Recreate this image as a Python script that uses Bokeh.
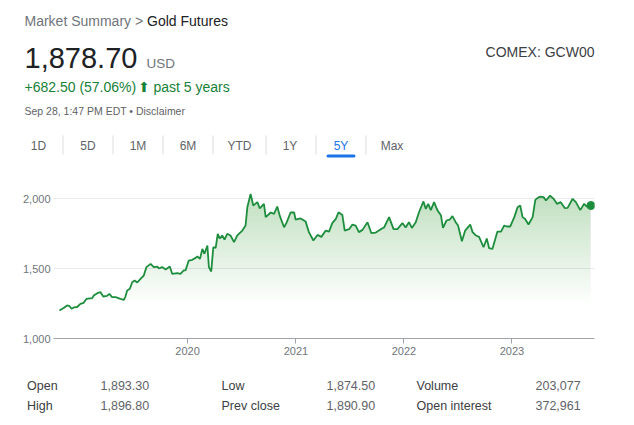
import numpy as np
import pandas as pd
from datetime import datetime
from bokeh.plotting import figure
from bokeh.layouts import column
from bokeh.models import Range1d, FixedTicker, NumeralTickFormatter, DatetimeTickFormatter
from bokeh.core.properties import value
from bokeh.embed import file_html
from bokeh.resources import INLINE

# ---------------- data ----------------
dates = [
    "2018-10-25", "2018-11-08", "2018-11-20", "2018-11-28", "2018-12-05", "2018-12-13", "2018-12-24", "2019-01-04", "2019-01-15", "2019-01-24",
    "2019-02-13", "2019-02-18", "2019-03-02", "2019-03-13", "2019-03-22", "2019-04-04", "2019-04-12", "2019-04-21", "2019-05-03", "2019-05-19",
    "2019-05-31", "2019-06-05", "2019-06-11", "2019-06-20", "2019-06-28", "2019-07-06", "2019-07-15", "2019-07-26", "2019-08-06", "2019-08-15",
    "2019-08-29", "2019-09-09", "2019-09-21", "2019-09-26", "2019-10-07", "2019-10-19", "2019-11-02", "2019-11-10", "2019-11-27", "2019-12-08",
    "2019-12-19", "2019-12-25", "2020-01-05", "2020-01-17", "2020-01-28", "2020-02-03", "2020-02-12", "2020-02-20", "2020-02-27", "2020-03-08",
    "2020-03-13", "2020-03-21", "2020-03-28", "2020-04-05", "2020-04-12", "2020-04-19", "2020-04-27", "2020-05-05", "2020-05-14", "2020-05-25",
    "2020-06-06", "2020-06-17", "2020-07-04", "2020-07-15", "2020-07-21", "2020-08-01", "2020-08-10", "2020-08-24", "2020-09-01", "2020-09-15",
    "2020-09-21", "2020-10-08", "2020-10-19", "2020-10-30", "2020-11-08", "2020-11-22", "2020-12-01", "2020-12-14", "2020-12-26", "2020-12-31",
    "2021-01-17", "2021-02-03", "2021-02-14", "2021-03-01", "2021-03-15", "2021-03-28", "2021-04-12", "2021-04-23", "2021-05-04", "2021-05-16",
    "2021-05-25", "2021-06-07", "2021-06-15", "2021-06-30", "2021-07-11", "2021-07-22", "2021-08-02", "2021-08-14", "2021-08-31", "2021-09-13",
    "2021-09-28", "2021-10-15", "2021-10-26", "2021-11-12", "2021-11-27", "2021-12-10", "2021-12-27", "2022-01-07", "2022-01-18", "2022-01-28",
    "2022-02-10", "2022-02-21", "2022-03-08", "2022-03-16", "2022-03-24", "2022-04-02", "2022-04-13", "2022-04-24", "2022-05-06", "2022-05-13",
    "2022-05-25", "2022-06-05", "2022-06-14", "2022-06-25", "2022-07-03", "2022-07-16", "2022-07-27", "2022-08-13", "2022-08-21", "2022-09-01",
    "2022-09-12", "2022-09-27", "2022-10-08", "2022-10-16", "2022-10-27", "2022-11-13", "2022-11-25", "2022-12-06", "2022-12-15", "2022-12-26",
    "2023-01-09", "2023-01-20", "2023-01-29", "2023-02-06", "2023-02-14", "2023-02-26", "2023-03-12", "2023-03-21", "2023-03-29", "2023-04-07",
    "2023-04-18", "2023-04-26", "2023-05-10", "2023-05-22", "2023-06-02", "2023-06-15", "2023-06-29", "2023-07-08", "2023-07-25", "2023-08-05",
    "2023-08-20", "2023-09-02", "2023-09-11", "2023-09-25",
]
prices = [
    1200, 1218, 1236, 1232, 1212, 1222, 1225, 1248, 1255, 1283,
    1288, 1307, 1324, 1331, 1300, 1305, 1319, 1295, 1295, 1283,
    1276, 1300, 1343, 1355, 1402, 1414, 1400, 1426, 1450, 1510,
    1533, 1510, 1514, 1500, 1510, 1493, 1514, 1462, 1467, 1462,
    1486, 1486, 1557, 1562, 1576, 1586, 1569, 1640, 1605, 1664,
    1510, 1479, 1652, 1648, 1748, 1714, 1736, 1707, 1748, 1736,
    1688, 1736, 1771, 1807, 1938, 2033, 1950, 1974, 1929, 1962,
    1867, 1900, 1890, 1943, 1874, 1795, 1830, 1900, 1900, 1850,
    1858, 1835, 1760, 1700, 1740, 1726, 1771, 1764, 1824, 1855,
    1902, 1883, 1771, 1781, 1814, 1807, 1760, 1776, 1831, 1752,
    1757, 1781, 1793, 1867, 1781, 1781, 1824, 1793, 1831, 1790,
    1831, 1902, 1979, 1926, 1962, 1917, 1974, 1917, 1881, 1790,
    1843, 1850, 1874, 1831, 1807, 1695, 1771, 1814, 1760, 1736,
    1726, 1652, 1714, 1645, 1640, 1764, 1764, 1807, 1800, 1800,
    1867, 1938, 1950, 1867, 1855, 1814, 1867, 1990, 2005, 2014,
    2010, 1986, 2021, 1998, 1962, 1974, 1931, 1933, 1998, 1974,
    1917, 1962, 1943, 1950,
]
y_ticks = [1000, 1500, 2000]
x_tick_years = [2020, 2021, 2022, 2023]
tabs = ["1D", "5D", "1M", "6M", "YTD", "1Y", "5Y", "Max"]
active_tab = "5Y"
stats_left = [("Open", "1,893.30"), ("High", "1,896.80")]
stats_mid = [("Low", "1,874.50"), ("Prev close", "1,890.90")]
stats_right = [("Volume", "203,077"), ("Open interest", "372,961")]

# ---------------- styles ----------------
FONT = "Liberation Sans"
GREEN = "#1e8e3e"
TEXT_GREEN = "#188038"
GRAY = "#70757a"
DARK = "#202124"
W = 634


def blank(h):
    f = figure(width=W, height=h, x_range=Range1d(0, W), y_range=Range1d(h, 0),
               output_backend="svg", toolbar_location=None,
               x_axis_location=None, y_axis_location=None, min_border=0,
               outline_line_color=None, background_fill_color="white",
               border_fill_color="white", frame_align=False)
    f.grid.visible = False
    return f


def txt(f, x, y, s, size, color, align="left", style="normal", font=FONT):
    f.text(x=[x], y=[y], text=[s], text_font=value(font), text_font_size=f"{size}px",
           text_color=color, text_align=align, text_baseline="middle",
           text_font_style=style)


# ---------------- header ----------------
hdr = blank(170)
txt(hdr, 24, 20, "Market Summary >", 14, GRAY)
txt(hdr, 146.5, 20, "Gold Futures", 14, DARK)
txt(hdr, 24, 57, "1,878.70", 29, DARK)
txt(hdr, 146, 62.5, "USD", 13.5, GRAY)
txt(hdr, 24, 86.5, "+682.50 (57.06%)", 14, TEXT_GREEN)
txt(hdr, 143.5, 86, "⬆", 14, TEXT_GREEN, align="center", font="DejaVu Sans")
txt(hdr, 153, 86.5, "past 5 years", 14, TEXT_GREEN)
txt(hdr, 24, 110.5, "Sep 28, 1:47 PM EDT • Disclaimer", 10.5, "#5f6368")
txt(hdr, 594, 51.5, "COMEX: GCW00", 14, "#3c4043", align="right")

tab_x = [38, 87.5, 137.5, 187.5, 239, 289.5, 340.5, 391.5]
sep_x = [62.5, 112.5, 162.5, 212.5, 265.5, 315.5, 365.5]
for tx, name in zip(tab_x, tabs):
    txt(hdr, tx, 145, name, 12, "#1a73e8" if name == active_tab else "#5f6368", align="center")
hdr.segment(x0=sep_x, y0=[135] * len(sep_x), x1=sep_x, y1=[154] * len(sep_x),
            line_color="#dadce0", line_width=1)
ai = tabs.index(active_tab)
hdr.segment(x0=[tab_x[ai] - 13], y0=[155.5], x1=[tab_x[ai] + 13], y1=[155.5],
            line_color="#1a73e8", line_width=3, line_cap="round")

# ---------------- chart ----------------
x = pd.to_datetime(dates)
v = np.array(prices, dtype=float)

chart = figure(width=W, height=202, x_axis_type="datetime",
               x_range=Range1d(datetime(2018, 10, 5), datetime(2023, 10, 7)),
               y_range=Range1d(1000, 2093),
               output_backend="svg", toolbar_location=None,
               min_border_left=53, min_border_right=40, min_border_top=15, min_border_bottom=34,
               outline_line_color=None, background_fill_color="white", border_fill_color="white",
               frame_align=False)

levels = np.arange(1250, 2051, 25)
n_at_top = int(np.sum(levels <= 2000))
a = 1 - (1 - 0.23) ** (1 / n_at_top)
for L in levels:
    chart.varea(x=x, y1=np.minimum(v, L), y2=v, fill_color=GREEN, fill_alpha=a)
chart.line(x=x, y=v, line_color=GREEN, line_width=1.8)
chart.scatter(x=x[-1:], y=v[-1:], size=8, fill_color=GREEN, line_color=GREEN)

chart.xgrid.visible = False
chart.ygrid.ticker = FixedTicker(ticks=y_ticks)
chart.ygrid.grid_line_color = "#e8eaed"

yax = chart.yaxis[0]
yax.ticker = FixedTicker(ticks=y_ticks)
yax.formatter = NumeralTickFormatter(format="0,0")
yax.axis_line_color = None
yax.major_tick_line_color = None
yax.minor_tick_line_color = None
yax.major_tick_out = 0
yax.major_tick_in = 0
yax.major_label_standoff = 3
yax.major_label_text_font = FONT
yax.major_label_text_font_size = "11px"
yax.major_label_text_color = GRAY

xax = chart.xaxis[0]
xax.ticker = FixedTicker(ticks=[pd.Timestamp(f"{yy}-01-01").value // 10**6 for yy in x_tick_years])
xax.formatter = DatetimeTickFormatter(years="%Y", months="%Y", days="%Y", hours="%Y")
xax.axis_line_color = "#a0a4a8"
xax.major_tick_line_color = "#a0a4a8"
xax.minor_tick_line_color = None
xax.major_tick_in = 0
xax.major_tick_out = 5
xax.major_label_standoff = 3
xax.major_label_text_font = FONT
xax.major_label_text_font_size = "11px"
xax.major_label_text_color = GRAY

# ---------------- stats table ----------------
tbl = blank(53)
cols = [(26.5, 100, stats_left), (221, 326, stats_mid), (416, 535, stats_right)]
for lx, vx, rows in cols:
    for (lab, val), by in zip(rows, [13, 33]):
        txt(tbl, lx, by, lab, 12.5, "#3c4043")
        txt(tbl, vx, by, val, 12.5, "#5f6368")

page = column(hdr, chart, tbl, spacing=0)
open("out.html", "w").write(file_html(page, INLINE))
